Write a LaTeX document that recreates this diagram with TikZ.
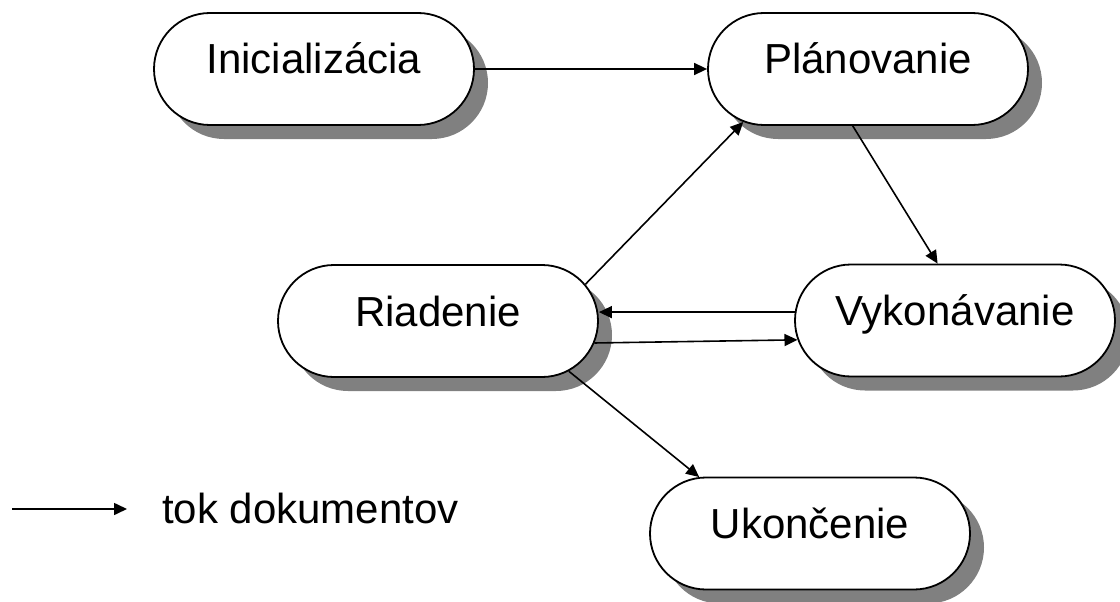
\documentclass[tikz,border=0pt]{standalone}
\usepackage{fontspec}
\setmainfont{Liberation Sans}
\usetikzlibrary{shapes.misc,shadows,arrows.meta,calc}
\definecolor{shadowgray}{HTML}{808080}
\begin{document}
\begin{tikzpicture}[x=1pt,y=-1pt,
  proc/.style={rounded rectangle, draw=black, line width=1.8pt, fill=white,
    minimum width=320pt, minimum height=112pt, inner sep=0pt,
    text height=10pt, text depth=0pt,
    font=\fontsize{42}{50}\selectfont,
    drop shadow={shadow xshift=14pt, shadow yshift=-14pt, fill=shadowgray, opacity=1, draw=none}},
  flow/.style={line width=1.6pt, -{Triangle[length=13pt,width=12pt]}}
]
\useasboundingbox (0,0) rectangle (1120,602);

\node[proc] (ini) at (314,69) {Inicializácia};
\node[proc] (pla) at (868,69) {Plánovanie};
\node[proc] (ria) at (438,321) {Riadenie};
\node[proc] (vyk) at (955,320.5) {Vykonávanie};
\node[proc] (uko) at (810,533.5) {Ukončenie};

\draw[flow] (ini.east) -- (pla.west);
\draw[flow] (ria.14) -- (pla.203);
\draw[flow] (pla.255) -- (vyk.107);
\draw[flow] (vyk.177.3) -- (vyk.177.3 -| ria.east);
\draw[flow] (ria.352.7) -- (vyk.187.5);
\draw[flow] (ria.339.4) -- (uko.153.8);

\coordinate (l1) at (12,509);
\coordinate (l2) at (127,509);
\draw[flow] (l1) -- (l2);
\node[anchor=base west, inner sep=0pt, font=\fontsize{42}{50}\selectfont] (leg) at (162,523) {tok dokumentov};
\end{tikzpicture}
\end{document}
